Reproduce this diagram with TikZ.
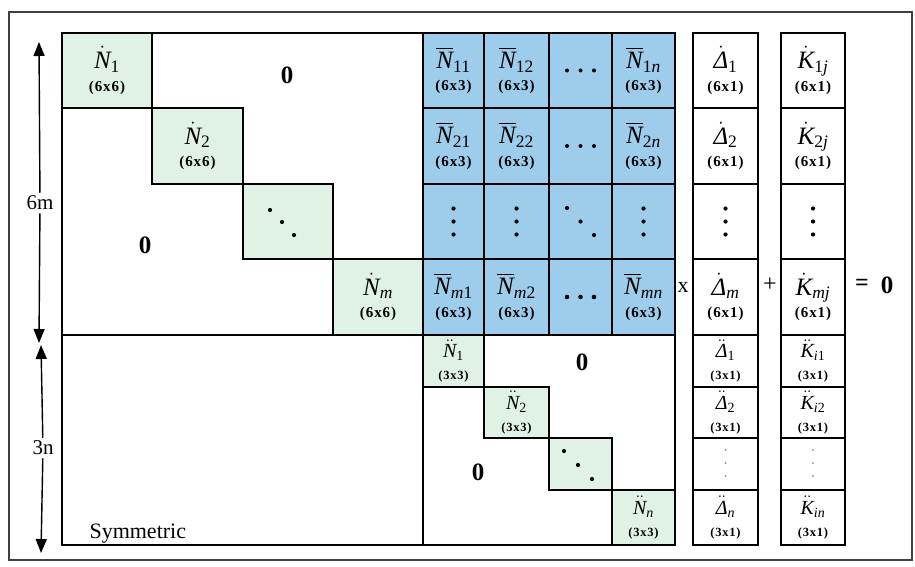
\documentclass[tikz,border=0pt]{standalone}
\usepackage{amsmath}
\usepackage{fontspec}
\setmainfont{Liberation Serif}
\usetikzlibrary{arrows.meta}

\definecolor{cellgreen}{RGB}{224,242,229}
\definecolor{cellblue}{RGB}{158,205,236}

% font sizes for block symbols and block dimensions
\newcommand\bigsz{\fontsize{25}{22.5}\selectfont}
\newcommand\midsz{\fontsize{20}{22}\selectfont}
\newcommand\dimA{\fontsize{15}{15}\selectfont\bfseries\addfontfeature{LetterSpace=6}}
\newcommand\dimB{\fontsize{12.5}{13}\selectfont\bfseries\addfontfeature{LetterSpace=6}}

% block symbols set in the text italic
\newcommand\iN{\textit{N}}
\newcommand\iK{\textit{K}}
\newcommand\iD{\textit{Δ}}
\newcommand\subr[1]{\textrm{#1}}
\newcommand\subi[1]{\textit{#1}}

% \cellbox{box style}{text style}{name}{x1}{y1}{x2}{y2}{content}
\newcommand\cellbox[8]{%
  \path[#1] (#4,#5) rectangle (#6,#7);
  \node[celltext,#2] (#3) at ({((#4)+(#6))/2},{((#5)+(#7))/2}) {#8};}

\begin{document}
\begin{tikzpicture}[x=1pt,y=-1pt,
  box/.style={draw, line width=2.3pt},
  gcell/.style={box, fill=cellgreen},
  bcell/.style={box, fill=cellblue},
  vcell/.style={box, fill=white},
  celltext/.style={inner sep=0pt, align=center, font=\bigsz},
  up/.style={font=\bigsz},
  low/.style={font=\midsz},
  grid/.style={line width=2.3pt, line cap=rect},
  zero/.style={font=\fontsize{25}{25}\selectfont\bfseries, inner sep=1pt},
  side/.style={font=\fontsize{21}{21}\selectfont, inner sep=3pt},
  arr/.style={line width=1.4pt, -{Triangle[width=11pt,length=14pt]}},
  op/.style={font=\fontsize{22}{22}\selectfont, inner sep=1pt},
  dot/.style={fill=black},
]
\useasboundingbox (0,0) rectangle (915,567);

% outer frame
\draw[line width=1.2pt, black!75] (9,12) rectangle (912,560);

% upper-left diagonal blocks (6x6)
\cellbox{gcell}{up}{na1}{62}{33}{152}{108}{$\dot{\iN}_{\subr{1}}$\\{\dimA(6x6)}}
\cellbox{gcell}{up}{na2}{152}{108}{243}{184}{$\dot{\iN}_{\subr{2}}$\\{\dimA(6x6)}}
\cellbox{gcell}{up}{na3}{243}{184}{333}{259}{}
\cellbox{gcell}{up}{nam}{333}{259}{423}{335}{$\dot{\iN}_{\subi{m}}$\\{\dimA(6x6)}}

% coupling blocks (6x3)
\cellbox{bcell}{up}{b11}{423}{33}{484}{108}{$\overline{\iN}_{\subr{11}}$\\{\dimA(6x3)}}
\cellbox{bcell}{up}{b12}{484}{33}{549}{108}{$\overline{\iN}_{\subr{12}}$\\{\dimA(6x3)}}
\cellbox{bcell}{up}{b13}{549}{33}{612}{108}{}
\cellbox{bcell}{up}{b14}{612}{33}{675}{108}{$\overline{\iN}_{\subr{1}\subi{n}}$\\{\dimA(6x3)}}
\cellbox{bcell}{up}{b21}{423}{108}{484}{184}{$\overline{\iN}_{\subr{21}}$\\{\dimA(6x3)}}
\cellbox{bcell}{up}{b22}{484}{108}{549}{184}{$\overline{\iN}_{\subr{22}}$\\{\dimA(6x3)}}
\cellbox{bcell}{up}{b23}{549}{108}{612}{184}{}
\cellbox{bcell}{up}{b24}{612}{108}{675}{184}{$\overline{\iN}_{\subr{2}\subi{n}}$\\{\dimA(6x3)}}
\cellbox{bcell}{up}{b31}{423}{184}{484}{259}{}
\cellbox{bcell}{up}{b32}{484}{184}{549}{259}{}
\cellbox{bcell}{up}{b33}{549}{184}{612}{259}{}
\cellbox{bcell}{up}{b34}{612}{184}{675}{259}{}
\cellbox{bcell}{up}{b41}{423}{259}{484}{335}{$\overline{\iN}_{\subi{m}\subr{1}}$\\{\dimA(6x3)}}
\cellbox{bcell}{up}{b42}{484}{259}{549}{335}{$\overline{\iN}_{\subi{m}\subr{2}}$\\{\dimA(6x3)}}
\cellbox{bcell}{up}{b43}{549}{259}{612}{335}{}
\cellbox{bcell}{up}{b44}{612}{259}{675}{335}{$\overline{\iN}_{\subi{mn}}$\\{\dimA(6x3)}}

% lower-right diagonal blocks (3x3)
\cellbox{gcell}{low}{nb1}{423}{335}{484}{387}{$\ddot{\iN}_{\subr{1}}$\\{\dimB(3x3)}}
\cellbox{gcell}{low}{nb2}{484}{387}{549}{438}{$\ddot{\iN}_{\subr{2}}$\\{\dimB(3x3)}}
\cellbox{gcell}{low}{nb3}{549}{438}{612}{490}{}
\cellbox{gcell}{low}{nbn}{612}{490}{675}{545}{$\ddot{\iN}_{\subi{n}}$\\{\dimB(3x3)}}

% matrix outline and partition lines
\draw[grid] (62,33) rectangle (675,545);
\draw[grid] (62,335) -- (675,335);
\draw[grid] (423,33) -- (423,545);

% ellipsis dots
\foreach \y in {208.5,221.5,234.5} {
  \fill[dot] (453.5,\y) circle (2.1);
  \fill[dot] (516.5,\y) circle (2.1);
  \fill[dot] (643.5,\y) circle (2.1);
}
\foreach \x/\y in {567/208,580.5/221.5,594/235} \fill[dot] (\x,\y) circle (2.1);
\foreach \x in {567,580.5,594} {
  \fill[dot] (\x,70.5) circle (2);
  \fill[dot] (\x,146) circle (2);
  \fill[dot] (\x,297) circle (2.3);
}
\foreach \x/\y in {270/210,282/222,294/235} \fill[dot] (\x,\y) circle (2.1);
\foreach \x/\y in {564/451,578/465,592/479} \fill[dot] (\x,\y) circle (2.1);

% zero blocks
\node[zero] (z1) at (287,75) {0};
\node[zero] (z2) at (145,245) {0};
\node[zero] (z3) at (582,362) {0};
\node[zero] (z4) at (478,472) {0};
\node[font=\fontsize{22}{22}\selectfont, anchor=base west] (sym) at (86,538) {Symmetric};

% displacement vector
\cellbox{vcell}{up}{d1}{693}{33}{758}{108}{$\dot{\iD}_{\subr{1}}$\\{\dimA(6x1)}}
\cellbox{vcell}{up}{d2}{693}{108}{758}{184}{$\dot{\iD}_{\subr{2}}$\\{\dimA(6x1)}}
\cellbox{vcell}{up}{d3}{693}{184}{758}{259}{}
\cellbox{vcell}{up}{dm}{693}{259}{758}{335}{$\dot{\iD}_{\subi{m}}$\\{\dimA(6x1)}}
\cellbox{vcell}{low}{e1}{693}{335}{758}{387}{$\ddot{\iD}_{\subr{1}}$\\{\dimB(3x1)}}
\cellbox{vcell}{low}{e2}{693}{387}{758}{438}{$\ddot{\iD}_{\subr{2}}$\\{\dimB(3x1)}}
\cellbox{vcell}{low}{e3}{693}{438}{758}{490}{}
\cellbox{vcell}{low}{en}{693}{490}{758}{545}{$\ddot{\iD}_{\subi{n}}$\\{\dimB(3x1)}}

% load vector
\cellbox{vcell}{up}{k1}{781}{33}{845}{108}{$\dot{\iK}_{\subr{1}\subi{j}}$\\{\dimA(6x1)}}
\cellbox{vcell}{up}{k2}{781}{108}{845}{184}{$\dot{\iK}_{\subr{2}\subi{j}}$\\{\dimA(6x1)}}
\cellbox{vcell}{up}{k3}{781}{184}{845}{259}{}
\cellbox{vcell}{up}{km}{781}{259}{845}{335}{$\dot{\iK}_{\subi{mj}}$\\{\dimA(6x1)}}
\cellbox{vcell}{low}{l1}{781}{335}{845}{387}{$\ddot{\iK}_{\subi{i}\subr{1}}$\\{\dimB(3x1)}}
\cellbox{vcell}{low}{l2}{781}{387}{845}{438}{$\ddot{\iK}_{\subi{i}\subr{2}}$\\{\dimB(3x1)}}
\cellbox{vcell}{low}{l3}{781}{438}{845}{490}{}
\cellbox{vcell}{low}{ln}{781}{490}{845}{545}{$\ddot{\iK}_{\subi{in}}$\\{\dimB(3x1)}}

\foreach \y in {208.5,221.5,234.5} {
  \fill[dot] (725.5,\y) circle (2.1);
  \fill[dot] (813,\y) circle (2.1);
}
\foreach \y in {450,463,476} {
  \fill[black!40] (725.5,\y) circle (1.1);
  \fill[black!40] (813,\y) circle (1.1);
}

% operators
\node[op] (times) at (683,287) {x};
\node[op, font=\fontsize{24}{24}\selectfont] (plus) at (770,285) {+};
\node[op, font=\fontsize{24}{24}\selectfont\bfseries] (eq) at (862,285) {=};
\node[zero] (rhs) at (887,285) {0};

% dimension arrows
\node[side] (l6m) at (40,203) {6m};
\node[side] (l3n) at (43,448) {3n};
\coordinate (t6m) at (39,42);
\coordinate (b6m) at (39,343);
\coordinate (t3n) at (41,345);
\coordinate (b3n) at (41,553);
\draw[arr] (l6m) -- (t6m);
\draw[arr] (l6m) -- (b6m);
\draw[arr] (l3n) -- (t3n);
\draw[arr] (l3n) -- (b3n);
\end{tikzpicture}
\end{document}
